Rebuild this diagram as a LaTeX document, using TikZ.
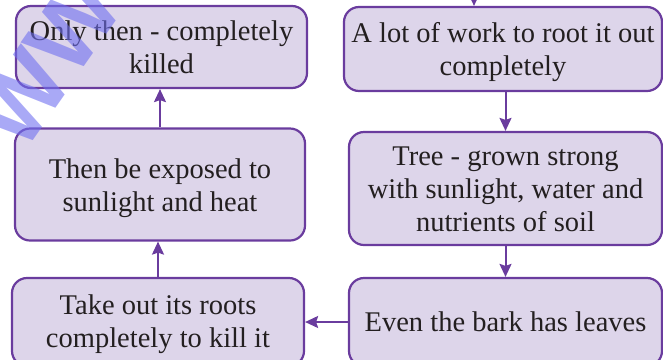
\documentclass[tikz,border=0pt]{standalone}
\usepackage{fontspec}
\setmainfont{Liberation Serif}
\newfontfamily\wmfont{Liberation Sans}
\usetikzlibrary{arrows.meta,calc}
\definecolor{boxfill}{HTML}{DDD5EA}
\definecolor{boxline}{HTML}{6A3C9E}
\definecolor{txt}{HTML}{231F20}
\definecolor{wm}{HTML}{7070F0}
\tikzset{
  flowbox/.style={draw=boxline, fill=boxfill, line width=2.2bp, rounded corners=15bp,
    inner sep=0pt},
  boxtext/.style={align=center, inner sep=0pt, text=txt,
    font=\fontsize{28.5bp}{33bp}\selectfont},
  flowarrow/.style={draw=boxline, line width=2bp,
    -{Stealth[length=13bp, width=12bp, inset=2bp]}}
}
\begin{document}
\begin{tikzpicture}[x=1bp, y=-1bp]
\useasboundingbox (0,0) rectangle (663,359);
\clip (0,0) rectangle (663,359);
\node[flowbox, minimum width=291bp, minimum height=82bp] (A) at (161.5,47) {};
\node[boxtext] (At) at (A.center) {Only then - completely\\killed};
\node[flowbox, minimum width=318bp, minimum height=84bp] (F) at (503,49) {};
\node[boxtext] (Ft) at ($(F.center)+(0,3)$) {A lot of work to root it out\\completely};
\node[flowbox, minimum width=290bp, minimum height=112bp] (B) at (160,184.5) {};
\node[boxtext] (Bt) at ($(B.center)+(0,4)$) {Then be exposed to\\sunlight and heat};
\node[flowbox, minimum width=313bp, minimum height=113bp] (E) at (505.5,188.5) {};
\node[boxtext] (Et) at ($(E.center)+(0,1)$) {Tree - grown strong\\with sunlight, water and\\nutrients of soil};
\node[flowbox, minimum width=292bp, minimum height=88bp] (C) at (158,322) {};
\node[boxtext] (Ct) at ($(C.center)+(0,2.5)$) {Take out its roots\\completely to kill it};
\node[flowbox, minimum width=313bp, minimum height=88bp] (D) at (505.5,322) {};
\node[boxtext] (Dt) at (D.center) {Even the bark has leaves};
\coordinate (top) at (474,-40);
\draw[flowarrow] (top) -- (top |- F.north);
\draw[flowarrow] (E.north |- F.south) -- (E.north);
\draw[flowarrow] (E.south) -- (D.north);
\draw[flowarrow] (D.west) -- (C.east);
\draw[flowarrow] (C.north) -- (C.north |- B.south);
\draw[flowarrow] (B.north) -- (B.north |- A.south);
\node[text=wm, opacity=0.6, rotate=55, font=\wmfont\bfseries\fontsize{95bp}{95bp}\selectfont, inner sep=0pt] (wm) at (48,62) {WW};
\end{tikzpicture}
\end{document}
